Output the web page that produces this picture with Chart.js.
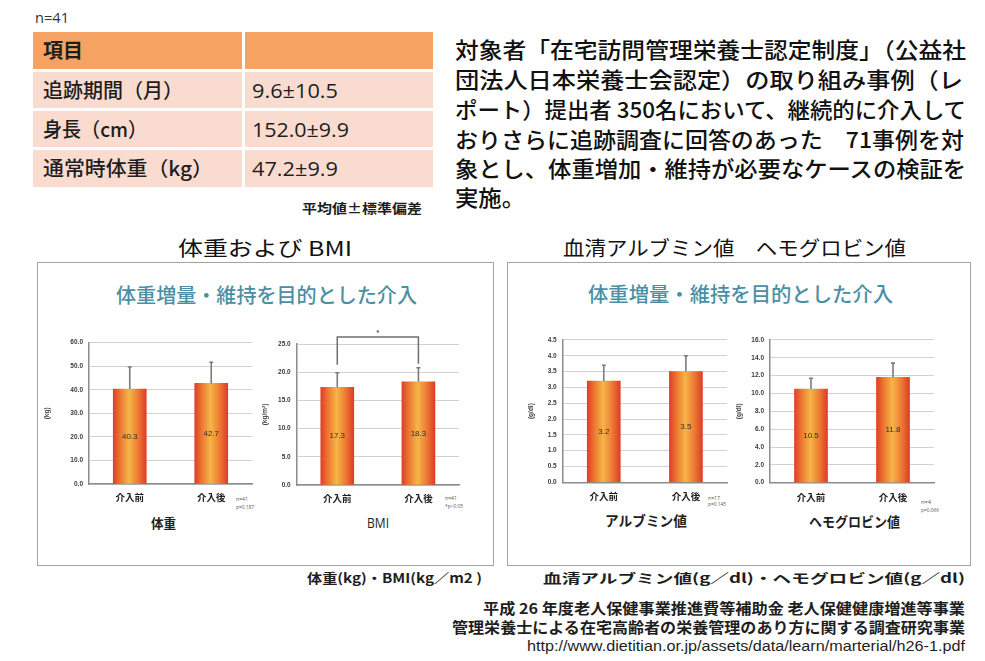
<!DOCTYPE html>
<html><head><meta charset="utf-8">
<script src="https://cdn.jsdelivr.net/npm/chart.js@4"></script>
<style>
html,body{margin:0;padding:0;background:#fff;}
body{width:985px;height:661px;position:relative;overflow:hidden;font-family:"Noto Sans CJK JP","Noto Sans",sans-serif;color:#1e1e1e;}
.t{position:absolute;white-space:nowrap;line-height:1;transform-origin:0 50%;}
.cell{position:absolute;}
.box{position:absolute;border:1px solid #a3a3a3;box-sizing:border-box;}
canvas{position:absolute;}
</style></head><body>

<!-- table -->
<div class="cell" style="left:33px;top:32px;width:209px;height:37px;background:#F5A262"></div>
<div class="cell" style="left:245px;top:32px;width:188px;height:37px;background:#F5A262"></div>
<div class="cell" style="left:33px;top:72px;width:209px;height:36px;background:#FADBCF"></div>
<div class="cell" style="left:245px;top:72px;width:188px;height:36px;background:#FADBCF"></div>
<div class="cell" style="left:33px;top:111px;width:209px;height:36px;background:#FADBCF"></div>
<div class="cell" style="left:245px;top:111px;width:188px;height:36px;background:#FADBCF"></div>
<div class="cell" style="left:33px;top:150px;width:209px;height:37px;background:#FADBCF"></div>
<div class="cell" style="left:245px;top:150px;width:188px;height:37px;background:#FADBCF"></div>

<div id="texts"></div>

<div class="box" style="left:37px;top:262px;width:457px;height:304px"></div>
<div class="box" style="left:507px;top:262px;width:464px;height:304px"></div>

<canvas id="c1" width="214" height="180" style="left:43px;top:330px"></canvas>
<canvas id="c2" width="203" height="190" style="left:261px;top:320px"></canvas>
<canvas id="c3" width="205" height="180" style="left:527px;top:330px"></canvas>
<canvas id="c4" width="204" height="180" style="left:735px;top:330px"></canvas>

<script>
// ---------------- data ----------------
const categories = ['介入前', '介入後'];

const weightMean = [40.3, 42.7];
const weightSD   = [9.4, 9.0];
const weightTicks = [0, 10, 20, 30, 40, 50, 60];

const bmiMean = [17.3, 18.3];
const bmiSD   = [2.6, 2.5];
const bmiTicks = [0, 5, 10, 15, 20, 25];

const albMean = [3.2, 3.5];
const albSD   = [0.5, 0.5];
const albTicks = [0, 0.5, 1, 1.5, 2, 2.5, 3, 3.5, 4, 4.5];

const hbMean = [10.5, 11.8];
const hbSD   = [1.2, 1.6];
const hbTicks = [0, 2, 4, 6, 8, 10, 12, 14, 16];

// ---------------- texts ----------------
const JP = '"Noto Sans CJK JP", sans-serif';
const LAT = '"Open Sans", "Noto Sans", sans-serif';
const texts = [
  // [text, left, centerY, fontSize, targetWidth, weight, color, family]
  ['n=41', 35, 17, 15, 34, 400, '#333', LAT],
  ['項目', 43, 50, 20, 40, 700, '#1e1e1e', JP],
  ['追跡期間（月）', 43, 90, 20, 140, 500, '#1e1e1e', JP],
  ['身長（cm）', 43, 129, 20, 104, 500, '#1e1e1e', JP],
  ['通常時体重（kg）', 43, 168, 20, 170, 500, '#1e1e1e', JP],
  ['9.6±10.5', 252, 91, 20, 86, 400, '#1e1e1e', LAT],
  ['152.0±9.9', 252, 130, 20, 97, 400, '#1e1e1e', LAT],
  ['47.2±9.9', 252, 169, 20, 86, 400, '#1e1e1e', LAT],
  ['平均値±標準偏差', 302, 207, 13, 120, 700, '#1e1e1e', JP],

  ['対象者「在宅訪問管理栄養士認定制度」（公益社', 455, 48, 22, 511, 500, '#111', JP],
  ['団法人日本栄養士会認定）の取り組み事例（レ', 455, 78, 22, 508, 500, '#111', JP],
  ['ポート）提出者 350名において、継続的に介入して', 455, 108, 22, 511, 500, '#111', JP],
  ['おりさらに追跡調査に回答のあった　71事例を対', 455, 138, 22, 509, 500, '#111', JP],
  ['象とし、体重増加・維持が必要なケースの検証を', 455, 167, 22, 511, 500, '#111', JP],
  ['実施。', 455, 196, 22, 70, 500, '#111', JP],

  ['体重および BMI', 178, 248, 20, 174, 400, '#111', JP],
  ['血清アルブミン値　ヘモグロビン値', 563, 248, 20, 343, 400, '#111', JP],

  ['体重増量・維持を目的とした介入', 116, 295, 20, 301, 500, '#4B8FA4', JP],
  ['体重増量・維持を目的とした介入', 588, 294, 20, 305, 500, '#4B8FA4', JP],

  ['体重', 151, 522, 13, 25, 700, '#1e1e1e', JP],
  ['BMI', 367, 523, 14, 22, 400, '#1e1e1e', LAT],
  ['アルブミン値', 605, 520, 14, 82, 700, '#1e1e1e', JP],
  ['ヘモグロビン値', 809, 521, 14, 91, 700, '#1e1e1e', JP],

  ['n=41', 236, 500, 5.5, 12, 400, '#555', LAT],
  ['p=0.187', 236, 508, 5.5, 18, 400, '#555', LAT],
  ['n=41', 445, 499, 5.5, 12, 400, '#555', LAT],
  ['*p<0.05', 445, 507, 5.5, 18, 400, '#555', LAT],
  ['n=17', 708, 499, 5.5, 12, 400, '#555', LAT],
  ['p=0.145', 708, 505, 5.5, 18, 400, '#555', LAT],
  ['n=4', 921, 503, 5.5, 10, 400, '#555', LAT],
  ['p=0.066', 921, 511, 5.5, 18, 400, '#555', LAT],

  ['体重(kg)・BMI(kg／m2 )', 307, 577, 13, 175, 700, '#1e1e1e', JP],
  ['血清アルブミン値(g／dl)・ヘモグロビン値(g／dl)', 543, 577, 13, 422, 700, '#1e1e1e', JP],
  ['平成 26 年度老人保健事業推進費等補助金 老人保健健康増進等事業', 483, 607, 15, 482, 700, '#1e1e1e', JP],
  ['管理栄養士による在宅高齢者の栄養管理のあり方に関する調査研究事業', 452, 626, 15, 513, 700, '#1e1e1e', JP],
  ['http://www.dietitian.or.jp/assets/data/learn/marterial/h26-1.pdf', 527, 645, 15, 438, 400, '#1e1e1e', '"Liberation Sans", sans-serif'],
];
const host = document.getElementById('texts');
texts.forEach(([s, x, cy, fs, w, fw, col, fam]) => {
  const d = document.createElement('div');
  d.className = 't';
  d.textContent = s;
  d.style.left = x + 'px';
  d.style.top = (cy - fs / 2) + 'px';
  d.style.fontSize = fs + 'px';
  d.style.fontWeight = fw;
  d.style.color = col;
  d.style.fontFamily = fam;
  host.appendChild(d);
  const aw = d.getBoundingClientRect().width;
  if (aw > 0) d.style.transform = 'scaleX(' + (w / aw) + ')';
});

// ---------------- charts ----------------
const FONT = '"Noto Sans CJK JP", sans-serif';
const BAR_W = 33;

function barGradient(ctx) {
  const chart = ctx.chart;
  if (!chart.chartArea || ctx.type !== 'data') return '#EE8A3C';
  const x = chart.scales.x.getPixelForValue(ctx.dataIndex);
  const g = chart.ctx.createLinearGradient(x - BAR_W / 2, 0, x + BAR_W / 2, 0);
  g.addColorStop(0, '#E03E28');
  g.addColorStop(0.2, '#EC7431');
  g.addColorStop(0.48, '#F6B548');
  g.addColorStop(0.78, '#EC7431');
  g.addColorStop(1, '#DE3C28');
  return g;
}

function annotPlugin(means, sds, bracket) {
  return {
    id: 'annot',
    afterDatasetsDraw(chart) {
      const c = chart.ctx, y = chart.scales.y;
      const meta = chart.getDatasetMeta(0);
      c.save();
      // error bars
      c.strokeStyle = '#7b7b7b';
      c.lineWidth = 1.6;
      const tops = [];
      meta.data.forEach((bar, i) => {
        const yt = y.getPixelForValue(means[i] + sds[i]);
        tops.push(yt);
        c.beginPath();
        c.moveTo(bar.x, bar.y);
        c.lineTo(bar.x, yt);
        c.moveTo(bar.x - 2, yt);
        c.lineTo(bar.x + 2, yt);
        c.stroke();
      });
      // value labels
      c.fillStyle = '#2e2e2e';
      c.font = '8px "Liberation Sans", sans-serif';
      c.textAlign = 'center';
      c.textBaseline = 'middle';
      meta.data.forEach((bar, i) => {
        c.fillText(means[i].toFixed(1), bar.x, y.getPixelForValue(means[i] / 2));
      });
      // significance bracket
      if (bracket) {
        const x0 = meta.data[0].x, x1 = meta.data[1].x;
        const top = chart.chartArea.top - 7;
        c.strokeStyle = '#6e6e6e';
        c.lineWidth = 1.5;
        c.beginPath();
        c.moveTo(x0, tops[0] - 8);
        c.lineTo(x0, top);
        c.lineTo(x1, top);
        c.lineTo(x1, tops[1] - 4);
        c.stroke();
        c.fillStyle = '#555';
        c.font = 'bold 8px "Liberation Sans", sans-serif';
        c.fillText('*', (x0 + x1) / 2, top - 4);
      }
      c.restore();
    }
  };
}

function makeChart(id, means, sds, ticks, unit, geo, bracket) {
  new Chart(document.getElementById(id), {
    type: 'bar',
    data: {
      labels: categories,
      datasets: [{ data: means, backgroundColor: barGradient, barThickness: BAR_W, borderWidth: 0 }]
    },
    options: {
      responsive: false,
      animation: false,
      events: [],
      layout: { padding: { top: geo.top, right: geo.right, left: 0, bottom: 0 } },
      plugins: { legend: { display: false }, tooltip: { enabled: false } },
      scales: {
        x: {
          grid: { display: false, drawTicks: false },
          border: { color: '#8c8c8c', width: 1.5 },
          ticks: { color: '#222', padding: geo.xpad, font: { family: FONT, size: 9.5, weight: 'bold' } },
          afterFit: s => { s.height = geo.xh; }
        },
        y: {
          min: ticks[0], max: ticks[ticks.length - 1],
          afterBuildTicks: s => { s.ticks = ticks.map(v => ({ value: v })); },
          ticks: { color: '#3a3a3a', padding: 6, font: { family: '"Liberation Sans", sans-serif', size: 6.5, weight: 'bold' }, callback: v => Number(v).toFixed(1) },
          grid: { color: '#d2d2d2', lineWidth: 1, drawTicks: false },
          border: { color: '#8c8c8c', width: 1.5 },
          title: { display: true, text: unit, color: '#444', padding: 0, font: { family: '"Liberation Sans", sans-serif', size: 6.5, weight: 'bold' } },
          afterFit: s => { s.width = geo.yw; }
        }
      }
    },
    plugins: [annotPlugin(means, sds, bracket)]
  });
}

makeChart('c1', weightMean, weightSD, weightTicks, '(kg)', { top: 12.7, right: 5, xh: 26, xpad: 8, yw: 46 }, false);
makeChart('c2', bmiMean, bmiSD, bmiTicks, '(kg/m²)', { top: 24, right: 5, xh: 25, xpad: 8, yw: 35.7 }, true);
makeChart('c3', albMean, albSD, albTicks, '(g/dl)', { top: 9.3, right: 5, xh: 27.7, xpad: 8, yw: 35.7 }, false);
makeChart('c4', hbMean, hbSD, hbTicks, '(g/dl)', { top: 9, right: 5, xh: 27.3, xpad: 9, yw: 35 }, false);
</script>
</body></html>
